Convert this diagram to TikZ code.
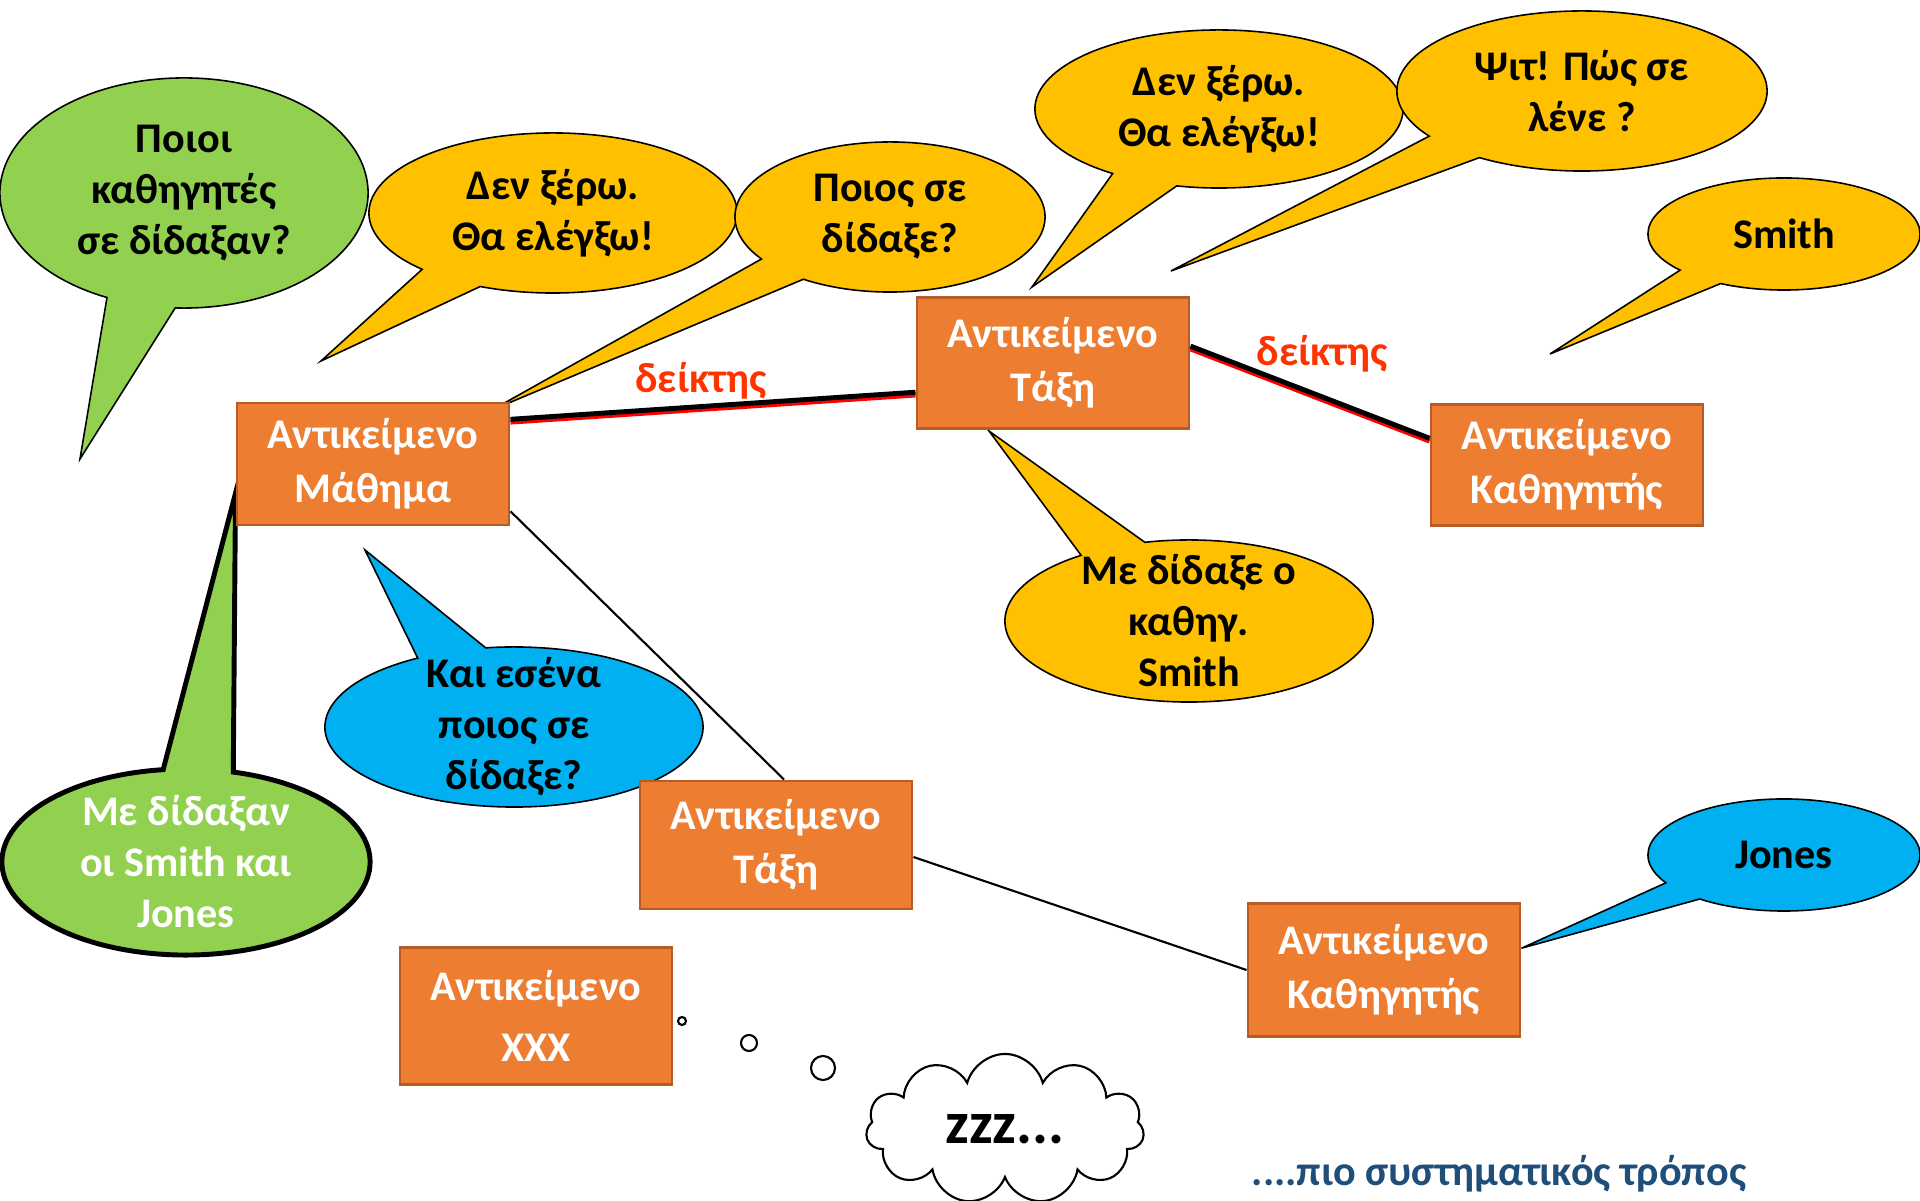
\documentclass[tikz,border=0pt]{standalone}
\usepackage{fontspec}
\setmainfont{Carlito}
\usepackage{tikz}
\usetikzlibrary{positioning,shapes,backgrounds,calc}
\definecolor{palOrange}{HTML}{ED7D31}
\definecolor{palOrangeDk}{HTML}{B85B26}
\definecolor{palYellow}{HTML}{FFC000}
\definecolor{palGreen}{HTML}{92D050}
\definecolor{palBlue}{HTML}{00B0F0}
\definecolor{palRed}{HTML}{FF0000}
\definecolor{palRedTxt}{HTML}{FF3300}
\definecolor{palNavy}{HTML}{1F4E79}
\tikzset{
  objbox/.style={draw=palOrangeDk, fill=palOrange, line width=0.8pt,
                 minimum width=2.72cm, align=center, text=white, inner sep=0pt,
                 font=\bfseries\fontsize{12}{15.5}\selectfont},
  bubble/.style={ellipse callout, draw=black, line width=0.45pt, align=center,
                 inner xsep=0pt, inner ysep=-5pt, callout pointer arc=22,
                 font=\bfseries\fontsize{12}{14.5}\selectfont},
  ybubble/.style={bubble, fill=palYellow},
  gbubble/.style={bubble, fill=palGreen},
  bbubble/.style={bubble, fill=palBlue},
  ptrline/.style={line width=1.4pt, black},
  ptrshadow/.style={line width=1.4pt, palRed, transform canvas={yshift=-0.8pt}},
  ptrlabel/.style={text=palRedTxt, font=\bfseries\fontsize{12}{14}\selectfont},
  linkline/.style={line width=0.6pt, black},
  thought/.style={circle, draw, line width=0.6pt, fill=white, inner sep=0pt},
}

\begin{document}
\begin{tikzpicture}[x=0.01cm, y=-0.01cm]
\useasboundingbox (0,0) rectangle (1920,1201);

%% Objects
\node[objbox, minimum height=1.22cm] (mathima) at (373,464)  {Αντικείμενο\\Μάθημα};
\node[objbox, minimum height=1.31cm] (taxiA)   at (1053,363) {Αντικείμενο\\Τάξη};
\node[objbox, minimum height=1.21cm] (kathA)   at (1567,465) {Αντικείμενο\\Καθηγητής};
\node[objbox, minimum height=1.28cm] (taxiB)   at (776,845)  {Αντικείμενο\\Τάξη};
\node[objbox, minimum height=1.33cm] (kathB)   at (1384,970) {Αντικείμενο\\Καθηγητής};
\node[objbox, minimum height=1.37cm, font=\bfseries\fontsize{12}{17.5}\selectfont]
  (xxx) at (536,1016) {Αντικείμενο\\XXX};

%% Pointers
\draw[ptrshadow] (mathima.18) -- (taxiA.192);
\draw[ptrline] (mathima.18) -- node[ptrlabel, pos=0.47, above=-2pt] {δείκτης} (taxiA.192);
\draw[ptrshadow] (taxiA.7) -- (kathA.169);
\draw[ptrline] (taxiA.7) -- node[ptrlabel, pos=0.55, above=3pt] {δείκτης} (kathA.169);

% plain links
\draw[linkline] (mathima.-19) -- (taxiB.83);
\draw[linkline] (taxiB.-5) -- (kathB.west);

%% Speech bubbles
\begin{scope}[on background layer]
\node[gbubble, minimum width=3.68cm, minimum height=2.30cm,
      callout absolute pointer={(80,459)}]
  (qTeachers) at (184,193) {Ποιοι\\καθηγητές\\σε δίδαξαν?};
\node[ybubble, minimum width=3.68cm, minimum height=1.60cm,
      callout absolute pointer={(321,361)}]
  (ansDontKnowA) at (553,213) {Δεν ξέρω.\\Θα ελέγξω!};
\node[ybubble, minimum width=3.10cm, minimum height=1.50cm,
      callout absolute pointer={(492,410)}]
  (qWhoTaught) at (890,217) {Ποιος σε\\δίδαξε?};
\node[ybubble, minimum width=3.68cm, minimum height=1.58cm,
      callout absolute pointer={(1032,287)}]
  (ansDontKnowB) at (1219,109) {Δεν ξέρω.\\Θα ελέγξω!};
\node[ybubble, minimum width=3.70cm, minimum height=1.60cm,
      callout absolute pointer={(1171,271)}]
  (qName) at (1582,91) {Ψιτ! Πώς σε\\λένε ?};
\node[ybubble, minimum width=2.72cm, minimum height=1.12cm,
      callout absolute pointer={(1550,354)}]
  (ansSmith) at (1784,234) {Smith};
\node[ybubble, minimum width=3.68cm, minimum height=1.62cm,
      callout absolute pointer={(989,431)}]
  (ansTaught) at (1189,621) {Με δίδαξε ο\\καθηγ.\\Smith};
\node[bbubble, minimum width=3.78cm, minimum height=1.60cm,
      callout absolute pointer={(365,550)}]
  (qAndYou) at (514,727) {Και εσένα\\ποιος σε\\δίδαξε?};
\node[gbubble, line width=1.4pt, text=white, minimum width=3.68cm, minimum height=1.86cm,
      callout absolute pointer={(mathima.192)}]
  (ansBoth) at (186,862) {Με δίδαξαν\\οι Smith και\\Jones};
\node[bbubble, minimum width=2.72cm, minimum height=1.12cm,
      callout absolute pointer={(kathB.9)}]
  (ansJones) at (1784,855) {Jones};
\end{scope}

%% Sleeping object
\node[thought, minimum size=0.08cm] (th1) at (682,1021) {};
\node[thought, minimum size=0.16cm] (th2) at (749,1043) {};
\node[thought, minimum size=0.24cm] (th3) at (823,1068) {};
\node[cloud, draw, fill=white, line width=0.6pt, cloud puffs=11, aspect=1.9,
      minimum width=2.78cm, minimum height=1.5cm, inner sep=0pt,
      font=\bfseries\fontsize{17}{18}\selectfont]
  (zzz) at (1005,1129) {zzz...};

%% Caption
\node[text=palNavy, font=\bfseries\fontsize{12}{15}\selectfont] (moreSys) at (1499,1174)
  {....πιο συστηματικός τρόπος};
\end{tikzpicture}
\end{document}
